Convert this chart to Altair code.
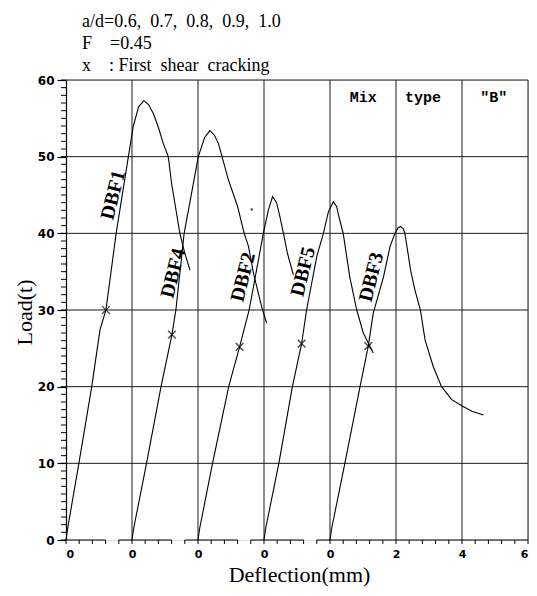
import altair as alt
import pandas as pd

# ---------------- data ----------------
names = ["DBF1", "DBF4", "DBF2", "DBF5", "DBF3"]
offsets = [0, 2, 4, 6, 8]  # each specimen is drawn from its own zero, 2 mm apart

dbf1_d = [0, 0.05, 0.39, 0.78, 1.03, 1.21, 1.52, 1.89, 2.04, 2.2, 2.36, 2.5, 2.65, 2.8, 2.95, 3.1, 3.2, 3.45, 3.6, 3.76]
dbf1_p = [0, 1.5, 10, 20, 27.4, 30, 40, 50, 54, 56.5, 57.3, 56.8, 55.6, 53.8, 51.7, 50, 46.5, 40, 37.4, 35.2]

dbf4_d = [0, 0.05, 0.44, 0.88, 1.21, 1.33, 1.58, 2.01, 2.2, 2.36, 2.5, 2.62, 2.92, 3.2, 3.4, 3.53, 3.68, 3.93, 4.08]
dbf4_p = [0, 1.5, 10, 20, 26.8, 30, 40, 50, 52.5, 53.4, 52.8, 51.7, 47, 43.5, 40, 38.3, 34.8, 30.4, 28.3]

dbf2_d = [0, 0.05, 0.44, 0.93, 1.26, 1.55, 1.98, 2.13, 2.26, 2.38, 2.48, 2.59, 2.71, 2.89]
dbf2_p = [0, 1.5, 10, 20, 25.2, 30, 40, 43, 44.8, 44.0, 42.2, 40, 37.4, 34.6]

dbf5_d = [0, 0.05, 0.45, 0.86, 1.14, 1.29, 1.6, 1.8, 1.95, 2.1, 2.2, 2.28, 2.4, 2.6, 2.81, 3.01, 3.31]
dbf5_p = [0, 1.5, 10, 20, 25.6, 30, 37, 40, 42.8, 44.1, 43.5, 42, 40, 34.3, 30, 27, 24.4]

dbf3_d = [0, 0.05, 0.45, 0.91, 1.16, 1.31, 1.62, 1.82, 1.97, 2.06, 2.14, 2.22, 2.27, 2.45, 2.58, 2.74,
          2.88, 3.13, 3.38, 3.69, 3.99, 4.3, 4.65]
dbf3_p = [0, 1.5, 10, 20, 25.3, 29.6, 34.3, 38.3, 40, 40.7, 40.9, 40.6, 40, 35, 32.5, 30,
          26.1, 22.6, 20, 18.3, 17.5, 16.8, 16.3]

curves_d = [dbf1_d, dbf4_d, dbf2_d, dbf5_d, dbf3_d]
curves_p = [dbf1_p, dbf4_p, dbf2_p, dbf5_p, dbf3_p]

# first shear cracking (x markers), relative deflection / load
crack_d = [1.21, 1.21, 1.26, 1.14, 1.16]
crack_p = [30.0, 26.8, 25.2, 25.6, 25.3]

# curve name labels (relative position)
label_d = [1.43, 1.25, 1.37, 1.19, 1.26]
label_p = [45.0, 34.8, 34.3, 35.0, 34.3]

# stray dot in the scan
dot_x = [5.63]
dot_y = [43.1]

x_tick_values = [0, 2, 4, 6, 8, 10, 12, 14]
y_tick_values = [0, 10, 20, 30, 40, 50, 60]
grid_x = [2, 4, 6, 8, 10, 12, 14]
grid_y = [10, 20, 30, 40, 50, 60]
seg_start = [0.0, 1.6, 3.6, 5.6, 7.6]
seg_end = [1.2, 3.2, 5.2, 7.2, 14.0]

title_lines = ["a/d=0.6,\u00a0 0.7,\u00a0 0.8,\u00a0 0.9,\u00a0 1.0",
               "F\u00a0\u00a0\u00a0 =0.45",
               "x\u00a0\u00a0\u00a0 : First\u00a0 shear\u00a0 cracking"]
mix_words = ["Mix", "type", '"B"']
mix_x = [8.6, 10.27, 12.55]
mix_y = [57.8, 57.8, 57.8]

# ---------------- tables ----------------
rows = []
for nm, off, ds, ps in zip(names, offsets, curves_d, curves_p):
    for i, (d, p) in enumerate(zip(ds, ps)):
        rows.append({"name": nm, "x": off + d, "y": p, "i": i})
curve_df = pd.DataFrame(rows)

crack_df = pd.DataFrame({"x": [o + d for o, d in zip(offsets, crack_d)], "y": crack_p})
label_df = pd.DataFrame({"x": [o + d for o, d in zip(offsets, label_d)], "y": label_p, "name": names})
seg_df = pd.DataFrame({"x": seg_start, "x2": seg_end})
xt = []
for s, e in zip(seg_start, seg_end):
    v = s
    while v <= e + 1e-6:
        xt.append(round(v, 2))
        v += 0.4
xtick_df = pd.DataFrame({"x": xt})
ytick_df = pd.DataFrame({"y": list(range(0, 61))})
mix_df = pd.DataFrame({"x": mix_x, "y": mix_y, "t": mix_words})

# ---------------- scales / axes ----------------
W, H = 462, 460
xscale = alt.Scale(domain=[0, 14], nice=False, zero=False)
yscale = alt.Scale(domain=[0, 60], nice=False)

xaxis = alt.Axis(values=x_tick_values,
                 labelExpr="datum.value <= 8 ? '0' : format(datum.value - 8, 'd')",
                 domain=False, ticks=False, grid=False,
                 labelFont="DejaVu Sans", labelFontSize=11, labelFontWeight="bold",
                 labelColor="black", labelPadding=8,
                 title="Deflection(mm)", titleFont="Liberation Serif", titleFontSize=22,
                 titleFontWeight="normal", titleColor="black",
                 titleX=233, titleY=34, titleAlign="center", titleBaseline="middle")
yaxis = alt.Axis(values=y_tick_values, domain=True, domainColor="black", domainWidth=1.2,
                 ticks=True, tickSize=9, tickColor="black", tickWidth=1.2, grid=False,
                 labelFont="DejaVu Sans", labelFontSize=12, labelFontWeight="bold",
                 labelColor="black", labelPadding=3,
                 title="Load(t)", titleFont="Liberation Serif", titleFontSize=22,
                 titleFontWeight="normal", titleColor="black", titleAngle=270,
                 titleX=-42, titleY=232, titleAlign="center", titleBaseline="middle")

X = lambda f="x": alt.X(f + ":Q", scale=xscale, axis=xaxis)
Y = lambda f="y": alt.Y(f + ":Q", scale=yscale, axis=yaxis)

grid_h = alt.Chart(pd.DataFrame({"y": grid_y})).mark_rule(color="#1a1a1a", strokeWidth=1).encode(y=Y())
grid_v = alt.Chart(pd.DataFrame({"x": grid_x})).mark_rule(color="#1a1a1a", strokeWidth=1).encode(x=X())
segs = alt.Chart(seg_df).mark_rule(color="black", strokeWidth=1.2).encode(
    x=X(), x2="x2:Q", y=alt.value(H))
xticks = alt.Chart(xtick_df).mark_rule(color="black", strokeWidth=1).encode(
    x=X(), y=alt.value(H), y2=alt.value(H + 4))
yticks = alt.Chart(ytick_df).mark_rule(color="black", strokeWidth=1).encode(
    y=Y(), x=alt.value(-5), x2=alt.value(0))

lines = alt.Chart(curve_df).mark_line(color="black", strokeWidth=1.1).encode(
    x=X(), y=Y(), detail="name:N", order="i:Q")
cracks = alt.Chart(crack_df).mark_point(shape="M-1,-1L1,1M-1,1L1,-1", size=60, color="black",
                                        strokeWidth=1.4, filled=False).encode(x=X(), y=Y())
labels = alt.Chart(label_df).mark_text(angle=284, font="Liberation Serif", fontWeight="bold",
                                       fontSize=20, color="black").encode(x=X(), y=Y(), text="name:N")
mix = alt.Chart(mix_df).mark_text(
    align="left", baseline="middle", font="Liberation Mono", fontWeight="bold",
    fontSize=15, color="black").encode(x=X(), y=Y(), text="t:N")
dot = alt.Chart(pd.DataFrame({"x": dot_x, "y": dot_y})).mark_point(
    filled=True, size=6, color="black").encode(x=X(), y=Y())

chart = alt.layer(grid_h, grid_v, segs, xticks, yticks, lines, cracks, labels, mix, dot).properties(
    width=W, height=H,
    autosize=alt.AutoSizeParams(type="none"),
    padding={"left": 58, "top": 72, "right": 1, "bottom": 56},
    title=alt.TitleParams(text=title_lines, anchor="start", frame="group", font="Liberation Serif",
                          fontSize=18, fontWeight="normal", color="black",
                          lineHeight=22, dx=16, offset=-1),
).configure_view(stroke=None).configure(background="white")

chart.save("out.html", embed_options={"renderer": "svg", "actions": False})
